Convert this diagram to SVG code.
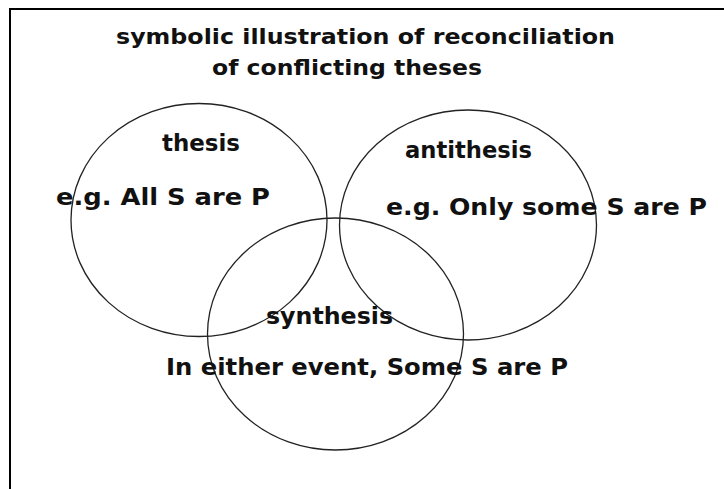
<svg xmlns="http://www.w3.org/2000/svg" width="724" height="489" viewBox="0 0 724 489">
<style>
.t{font-family:"DejaVu Sans","Liberation Sans",sans-serif;font-weight:bold;fill:#111;}
.c{fill:none;stroke:#222;stroke-width:1.3;}
.f{stroke:#000;stroke-width:2;fill:none;}
</style>
<rect width="724" height="489" fill="#fff"/>
<path class="f" d="M10,489 V9 H724"/>
<g id="title">
<text class="t" x="116" y="43.5" font-size="22" textLength="499" lengthAdjust="spacingAndGlyphs">symbolic illustration of reconciliation</text>
<text class="t" x="212" y="75" font-size="22" textLength="270" lengthAdjust="spacingAndGlyphs">of conflicting theses</text>
</g>
<g id="thesis">
<ellipse class="c" cx="199" cy="220" rx="128" ry="116.5"/>
<text class="t" x="162" y="151" font-size="23" textLength="78" lengthAdjust="spacingAndGlyphs">thesis</text>
<text class="t" x="56" y="205" font-size="23" textLength="214" lengthAdjust="spacingAndGlyphs">e.g. All S are P</text>
</g>
<g id="antithesis">
<ellipse class="c" cx="468" cy="225" rx="128.5" ry="115"/>
<text class="t" x="405" y="158" font-size="23" textLength="127" lengthAdjust="spacingAndGlyphs">antithesis</text>
<text class="t" x="386" y="215" font-size="23" textLength="321" lengthAdjust="spacingAndGlyphs">e.g. Only some S are P</text>
</g>
<g id="synthesis">
<ellipse class="c" cx="335.5" cy="334" rx="128" ry="116"/>
<text class="t" x="266" y="324" font-size="23" textLength="127" lengthAdjust="spacingAndGlyphs">synthesis</text>
<text class="t" x="166" y="375" font-size="23" textLength="402" lengthAdjust="spacingAndGlyphs">In either event, Some S are P</text>
</g>
<g id="connectors"/>
</svg>
